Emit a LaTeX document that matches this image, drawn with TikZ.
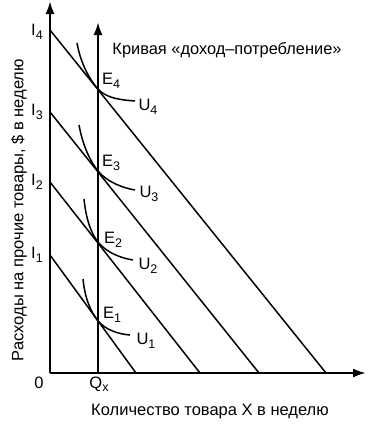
\documentclass[tikz,border=0pt]{standalone}
\usepackage{fontspec}
\setmainfont{Liberation Sans}
\usetikzlibrary{arrows.meta}
\newcommand\sbx[1]{\raisebox{-0.4ex}{\fontsize{12.5}{12.5}\selectfont #1}}
\begin{document}
\begin{tikzpicture}[x=1pt,y=-1pt,
  axis/.style={line width=2.2pt,-{Latex[length=13pt,width=9pt]}},
  budget/.style={line width=1.5pt},
  indiff/.style={line width=1.5pt},
  lbl/.style={font=\fontsize{16.5}{18}\selectfont, inner sep=0pt}]
\useasboundingbox (0,0) rectangle (383,432);
% axes
\coordinate (O) at (50,373);
\coordinate (Ytop) at (50,1);
\coordinate (Xend) at (366,373);
\coordinate (Qb) at (98,373);
\coordinate (Qt) at (98,22);
\draw[axis] (O) -- (Ytop);
\draw[axis] (O) -- (Xend);
\draw[axis] (Qb) -- (Qt);
% budget lines
\coordinate (I4a) at (50,30);  \coordinate (I4b) at (326,373);
\coordinate (I3a) at (50,112); \coordinate (I3b) at (259,373);
\coordinate (I2a) at (50,182); \coordinate (I2b) at (200,373);
\coordinate (I1a) at (50,255); \coordinate (I1b) at (136,373);
\draw[budget] (I4a) -- (I4b);
\draw[budget] (I3a) -- (I3b);
\draw[budget] (I2a) -- (I2b);
\draw[budget] (I1a) -- (I1b);
% equilibrium points
\coordinate (E4) at (97,88);
\coordinate (E3) at (98,171);
\coordinate (E2) at (98,242);
\coordinate (E1) at (98,321);
% indifference curves
\coordinate (U4s) at (77,43);  \coordinate (U4e) at (135,101);
\coordinate (U3s) at (79,125); \coordinate (U3e) at (135,190);
\coordinate (U2s) at (84,199); \coordinate (U2e) at (133,260);
\coordinate (U1s) at (83,279); \coordinate (U1e) at (130,335);
\draw[indiff] (U4s) .. controls +(4,22) and +(-7,-8.7) .. (E4) .. controls +(9,11) and +(-12,-1) .. (U4e);
\draw[indiff] (U3s) .. controls +(4,22) and +(-7,-8.7) .. (E3) .. controls +(9,11) and +(-12,-2) .. (U3e);
\draw[indiff] (U2s) .. controls +(2,20) and +(-7,-8.7) .. (E2) .. controls +(9,11) and +(-12,-2) .. (U2e);
\draw[indiff] (U1s) .. controls +(2,20) and +(-7,-9) .. (E1) .. controls +(8,9) and +(-12,-1) .. (U1e);
% labels
\node[lbl] (lI4) at (37,32) {I\sbx{4}};
\node[lbl] (lI3) at (37,112) {I\sbx{3}};
\node[lbl] (lI2) at (37,182) {I\sbx{2}};
\node[lbl] (lI1) at (37,255) {I\sbx{1}};
\node[lbl] (lE4) at (111,81) {E\sbx{4}};
\node[lbl] (lE3) at (111,163) {E\sbx{3}};
\node[lbl] (lE2) at (113,240) {E\sbx{2}};
\node[lbl] (lE1) at (112,315) {E\sbx{1}};
\node[lbl] (lU4) at (148,107) {U\sbx{4}};
\node[lbl] (lU3) at (149,194) {U\sbx{3}};
\node[lbl] (lU2) at (148,266) {U\sbx{2}};
\node[lbl] (lU1) at (146,341) {U\sbx{1}};
\node[lbl] (l0) at (39,383) {0};
\node[lbl] (lQ) at (99,384) {Q\sbx{x}};
\node[lbl, font=\fontsize{16.4}{18}\selectfont] (title) at (227,50) {Кривая «доход–потребление»};
\node[lbl] (xlab) at (210,412) {Количество товара X в неделю};
\node[lbl, rotate=90] (ylab) at (19,210) {Расходы на прочие товары, \$ в неделю};
\end{tikzpicture}
\end{document}
